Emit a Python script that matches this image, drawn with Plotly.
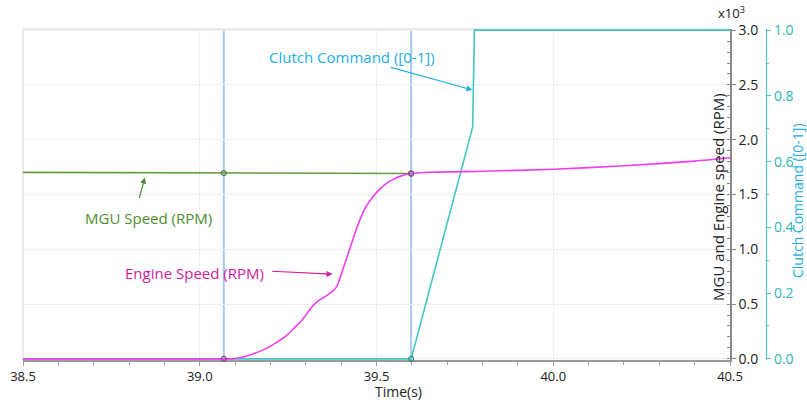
import plotly.graph_objects as go

# ---------------- data ----------------
cursor_times = [39.068, 39.598]

mgu_t = [38.5, 38.7, 38.9, 39.068, 39.2, 39.4, 39.598]
mgu_v = [1702, 1700, 1698, 1695, 1694, 1693, 1692]

engine_t = [38.5, 39.068, 39.094, 39.12, 39.151, 39.175, 39.198, 39.222, 39.245, 39.27,
            39.292, 39.320, 39.340, 39.358, 39.375, 39.386, 39.395, 39.405, 39.424, 39.443,
            39.457, 39.471, 39.49, 39.508, 39.527, 39.546, 39.57, 39.598, 39.65,
            39.8, 40.0, 40.2, 40.4, 40.5]
engine_v = [0, 0, 0, 15, 45, 75, 112, 160, 212, 290, 364, 485, 540, 575, 615, 652, 720,
            818, 1000, 1182, 1300, 1394, 1480, 1545, 1600, 1636, 1670, 1691, 1703,
            1712, 1730, 1762, 1805, 1835]

clutch_t = [38.5, 39.598, 39.772, 39.777, 40.5]
clutch_v = [0, 0, 0.705, 1.0, 1.0]

x_ticks = [38.5, 39.0, 39.5, 40.0, 40.5]
rpm_ticks = [0, 500, 1000, 1500, 2000, 2500, 3000]
rpm_ticktext = ["0.0", "0.5", "1.0", "1.5", "2.0", "2.5", "3.0"]
clutch_ticks = [0, 0.2, 0.4, 0.6, 0.8, 1.0]
clutch_ticktext = ["0.0", "0.2", "0.4", "0.6", "0.8", "1.0"]

# ---------------- style ----------------
FONT = "Open Sans"
GREEN = "#5f9e3c"
MAGENTA = "#f03cf0"
TEAL = "#45c4c4"
CURSOR = "#a9c9ee"
GRID = "#efefef"

fig = go.Figure()

# cursor lines
for ct in cursor_times:
    fig.add_shape(type="line", xref="x", yref="paper", x0=ct, x1=ct, y0=0, y1=1,
                  line=dict(color=CURSOR, width=2), layer="below")

# clutch on primary y (drawn first / underneath), speeds on overlaying y2
fig.add_trace(go.Scatter(x=clutch_t, y=clutch_v, mode="lines", yaxis="y",
                         line=dict(color=TEAL, width=1.6), name="Clutch Command"))
fig.add_trace(go.Scatter(x=[cursor_times[1]], y=[clutch_v[clutch_t.index(cursor_times[1])]],
                         mode="markers", yaxis="y", cliponaxis=False,
                         marker=dict(symbol="circle-open", size=5, color="#3a8a8a",
                                     line=dict(width=1.2))))
fig.add_trace(go.Scatter(x=mgu_t, y=mgu_v, mode="lines", yaxis="y2",
                         line=dict(color=GREEN, width=1.6), name="MGU Speed"))
fig.add_trace(go.Scatter(x=engine_t, y=engine_v, mode="lines", yaxis="y2",
                         line=dict(color=MAGENTA, width=1.6, shape="spline", smoothing=0.6),
                         name="Engine Speed"))

mk = dict(symbol="circle-open", size=5, line=dict(width=1.2))
fig.add_trace(go.Scatter(x=cursor_times, y=[mgu_v[mgu_t.index(c)] for c in cursor_times],
                         mode="markers", yaxis="y2", cliponaxis=False,
                         marker=dict(mk, color="#557744")))
fig.add_trace(go.Scatter(x=cursor_times, y=[engine_v[engine_t.index(c)] for c in cursor_times],
                         mode="markers", yaxis="y2", cliponaxis=False,
                         marker=dict(mk, color="#884488")))

XDOM = 707 / 769
PAD = 0.0035  # tiny padding so lines at 0 and at the top are not clipped

fig.update_layout(
    width=807, height=401,
    margin=dict(l=23, r=15, t=29, b=41, autoexpand=False),
    paper_bgcolor="white", plot_bgcolor="white",
    showlegend=False,
    font=dict(family=FONT, size=13, color="#222"),
    xaxis=dict(domain=[0, XDOM], range=[38.5, 40.5], tickvals=x_ticks,
               ticktext=[f"{v:.1f}" for v in x_ticks], automargin=False,
               showgrid=True, gridcolor=GRID, zeroline=False, layer="below traces",
               showline=True, linecolor="#9a9a9a", linewidth=1.5,
               ticks="outside", ticklen=4, tickcolor="#9a9a9a",
               minor=dict(dtick=0.1, ticks="outside", ticklen=3, tickcolor="#9a9a9a", showgrid=False),
               tickfont=dict(size=13, color="#222")),
    yaxis=dict(range=[-PAD, 1 + PAD], side="right", anchor="free",
               position=(766 - 23) / 769, tickvals=clutch_ticks, ticktext=clutch_ticktext,
               automargin=False, layer="below traces",
               showgrid=False, zeroline=False, showline=True, linecolor=TEAL, linewidth=1.2,
               ticks="outside", ticklen=4, tickcolor=TEAL,
               minor=dict(dtick=0.1, ticks="outside", ticklen=2, tickcolor=TEAL),
               tickfont=dict(size=14, color="#2fb5b5")),
    yaxis2=dict(range=[-3000 * PAD, 3000 * (1 + PAD)], overlaying="y", side="right",
                anchor="x", tickvals=rpm_ticks,
                ticktext=rpm_ticktext, showgrid=True, gridcolor=GRID, zeroline=False,
                automargin=False, layer="below traces",
                showline=True, linecolor="#8a8a8a", linewidth=1.5,
                ticks="outside", ticklen=4, tickcolor="#8a8a8a",
                minor=dict(dtick=100, ticks="inside", ticklen=3, tickcolor="#8a8a8a", showgrid=False),
                tickfont=dict(size=14, color="#222")),
)

# frame on left/top
fig.add_shape(type="line", xref="paper", yref="paper", x0=0, x1=XDOM, y0=1, y1=1,
              line=dict(color="#e4e4e4", width=1.5), layer="below")
fig.add_shape(type="line", xref="paper", yref="paper", x0=0, x1=0, y0=0, y1=1,
              line=dict(color="#e4e4e4", width=1.5), layer="below")

# axis titles
def title(text, px, py, size, color, angle=0):
    fig.add_annotation(text=text, xref="paper", yref="paper", x=(px - 23) / 769,
                       y=(360 - py) / 331, xanchor="center", yanchor="middle",
                       textangle=angle, showarrow=False, font=dict(size=size, color=color))

title("Time(s)", 398, 391, 14, "#222")
title("MGU and Engine speed (RPM)", 718, 197, 15, "#222", -90)
title("Clutch Command ([0-1])", 797, 201, 14, "#22aee6", -90)
title("x10<sup>3</sup>", 731, 13, 13, "#222")

# series labels with arrows
def tx(px):
    return 38.5 + (px - 23) / 354.0

def ry(py):
    return (360 - py) / 0.11

labels = [
    ("Clutch Command ([0-1])", "#22aee6", (352, 57), (390, 67), (473, 90)),
    ("MGU Speed (RPM)", "#4f8c30", (149, 219), (139, 200), (145, 178)),
    ("Engine Speed (RPM)", "#d01c9a", (195, 274), (271, 272), (333, 275)),
]
for text, col, c, tail, tip in labels:
    fig.add_annotation(text=text, x=tx(c[0]), y=ry(c[1]), xref="x", yref="y2",
                       xanchor="center", yanchor="middle",
                       showarrow=False, font=dict(size=15, color=col))
    fig.add_annotation(text="", x=tx(tip[0]), y=ry(tip[1]), xref="x", yref="y2",
                       ax=tx(tail[0]), ay=ry(tail[1]), axref="x", ayref="y2",
                       showarrow=True, arrowhead=2, arrowsize=1, arrowwidth=1.2,
                       arrowcolor=col)

fig.write_html("out.html")
